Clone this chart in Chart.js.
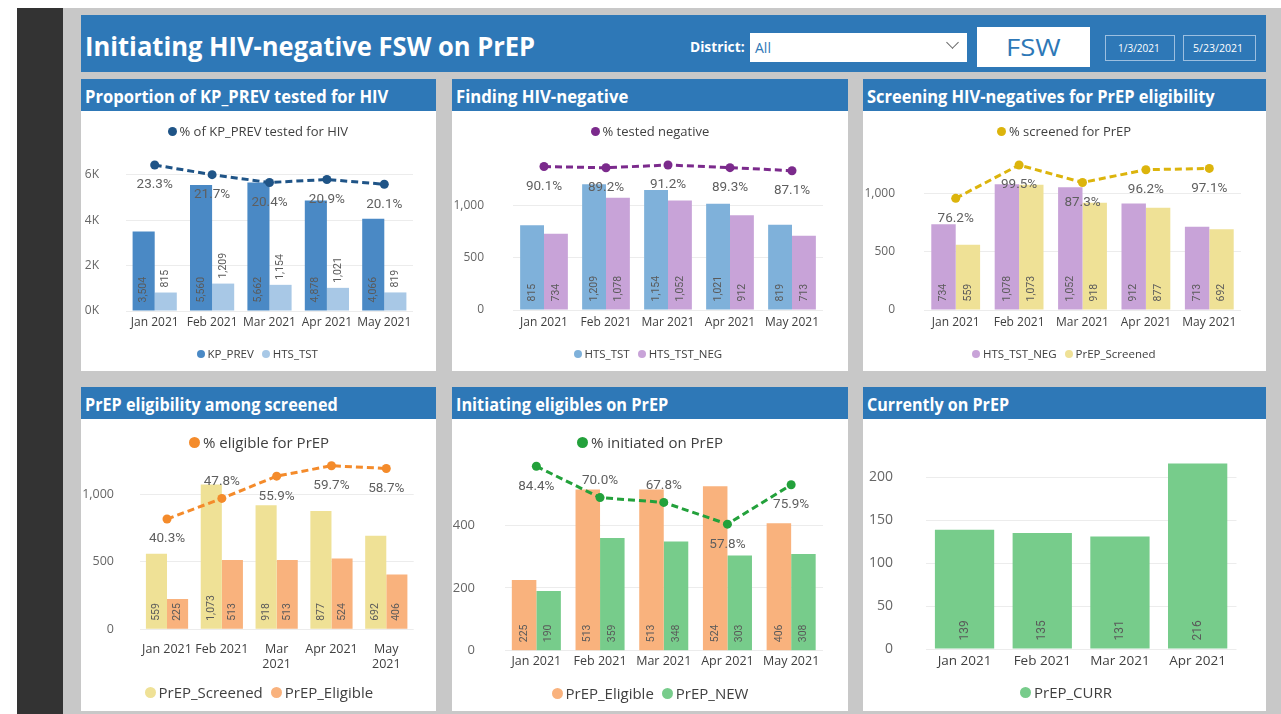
<!DOCTYPE html>
<html>
<head>
<meta charset="utf-8">
<script src="https://cdn.jsdelivr.net/npm/chart.js@4.4.1/dist/chart.umd.min.js"></script>
<style>
  body { margin: 0; width: 1281px; height: 714px; background: #fff; position: relative; overflow: hidden; font-family: "Open Sans", sans-serif; }
  .abs { position: absolute; }
  .fit { position: absolute; white-space: nowrap; line-height: 1; transform-origin: 0 50%; }
  canvas { position: absolute; }
  .legend { position: absolute; white-space: nowrap; color: #404040; display: flex; align-items: center; line-height: 1.2; }
  .legend .dot { display: inline-block; border-radius: 50%; margin-right: 3px; }
  .legend .item { display: flex; align-items: center; margin: 0 4px; }
</style>
</head>
<body>
<script>
// data
const months = ['Jan 2021', 'Feb 2021', 'Mar 2021', 'Apr 2021', 'May 2021'];
const currMonths = ['Jan 2021', 'Feb 2021', 'Mar 2021', 'Apr 2021'];
const kpPrev = [3504, 5560, 5662, 4878, 4066];
const htsTst = [815, 1209, 1154, 1021, 819];
const htsTstNeg = [734, 1078, 1052, 912, 713];
const prepScreened = [559, 1073, 918, 877, 692];
const prepEligible = [225, 513, 513, 524, 406];
const prepNew = [190, 359, 348, 303, 308];
const prepCurr = [139, 135, 131, 216];
const pctTested = [23.3, 21.7, 20.4, 20.9, 20.1];
const pctNegative = [90.1, 89.2, 91.2, 89.3, 87.1];
const pctScreened = [76.2, 99.5, 87.3, 96.2, 97.1];
const pctEligible = [40.3, 47.8, 55.9, 59.7, 58.7];
const pctInitiated = [84.4, 70.0, 67.8, 57.8, 75.9];

const BLUE = '#2e78b7';

function rect(x, y, w, h, css) {
  const d = document.createElement('div');
  d.className = 'abs';
  d.style.cssText += `left:${x}px;top:${y}px;width:${w}px;height:${h}px;` + (css || '');
  document.body.appendChild(d);
  return d;
}

function fitText(text, x, cy, w, size, color, weight) {
  const el = document.createElement('div');
  el.className = 'fit';
  el.textContent = text;
  el.style.cssText += `left:${x}px;top:${cy}px;font-size:${size}px;color:${color};font-weight:${weight};`;
  document.body.appendChild(el);
  const k = w ? w / el.offsetWidth : 1;
  el.style.transform = `translateY(-50%) scaleX(${k})`;
  return el;
}

function legend(items, cx, cy, size) {
  const d = document.createElement('div');
  d.className = 'legend';
  d.style.fontSize = size + 'px';
  items.forEach(([text, color]) => {
    const it = document.createElement('span');
    it.className = 'item';
    const dot = document.createElement('span');
    dot.className = 'dot';
    const ds = Math.round(size * 0.72);
    dot.style.cssText += `width:${ds}px;height:${ds}px;background:${color};`;
    it.appendChild(dot);
    it.appendChild(document.createTextNode(text));
    d.appendChild(it);
  });
  document.body.appendChild(d);
  d.style.left = (cx - d.offsetWidth / 2) + 'px';
  d.style.top = (cy - d.offsetHeight / 2) + 'px';
}

// page frame
rect(17, 8, 46, 706, 'background:#333;');
rect(63, 8, 1218, 706, 'background:#c8c8c8;');
rect(81, 15, 1185, 57, 'background:' + BLUE + ';');
fitText('Initiating HIV-negative FSW on PrEP', 85, 45, 450, 27, '#fff', 700);
fitText('District:', 690, 47, 55, 14, '#fff', 700);
rect(750, 33, 217, 29, 'background:#fff;');
fitText('All', 755, 48, 0, 14, BLUE, 400);
rect(948, 38, 8, 8, 'border-right:1px solid #666;border-bottom:1px solid #666;transform:rotate(45deg);');
rect(977, 27, 113, 40, 'background:#fff;');
fitText('FSW', 1006, 47, 55, 24, BLUE, 500);
rect(1105, 35, 68, 24, 'border:1px solid #9cbfe0;');
fitText('1/3/2021', 1118, 47, 42, 11, '#fff', 400);
rect(1183, 35, 71, 24, 'border:1px solid #9cbfe0;');
fitText('5/23/2021', 1193, 47, 50, 11, '#fff', 400);

const panels = [
  { x: 81, y: 79, w: 355, h: 292, title: 'Proportion of KP_PREV tested for HIV', tw: 303 },
  { x: 452, y: 79, w: 396, h: 292, title: 'Finding HIV-negative', tw: 172 },
  { x: 863, y: 79, w: 403, h: 292, title: 'Screening HIV-negatives for PrEP eligibility', tw: 348 },
  { x: 81, y: 387, w: 355, h: 324, title: 'PrEP eligibility among screened', tw: 253 },
  { x: 452, y: 387, w: 396, h: 324, title: 'Initiating eligibles on PrEP', tw: 212 },
  { x: 863, y: 387, w: 403, h: 324, title: 'Currently on PrEP', tw: 142 }
];
panels.forEach(p => {
  rect(p.x, p.y, p.w, p.h, 'background:#fff;');
  rect(p.x, p.y, p.w, 32, 'background:' + BLUE + ';');
  fitText(p.title, p.x + 4, p.y + 17, p.tw, 17, '#fff', 700);
});

const valueLabels = {
  id: 'valueLabels',
  afterDatasetsDraw(chart, args, opts) {
    const ctx = chart.ctx;
    chart.data.datasets.forEach((ds, i) => {
      const meta = chart.getDatasetMeta(i);
      meta.data.forEach((el, j) => {
        const v = ds.data[j];
        ctx.save();
        if (meta.type === 'bar') {
          ctx.font = opts.barFont;
          ctx.fillStyle = '#5a5a5a';
          ctx.textBaseline = 'middle';
          ctx.textAlign = 'left';
          const y0 = ds.labelAt === 'end' ? el.y - 5 : el.base - 8;
          ctx.translate(el.x, y0);
          ctx.rotate(-Math.PI / 2);
          ctx.fillText(v.toLocaleString('en-US'), 0, 0);
        } else {
          ctx.font = opts.lineFont;
          ctx.fillStyle = '#5f5f5f';
          ctx.textAlign = 'center';
          ctx.textBaseline = 'middle';
          const pos = opts.linePos ? opts.linePos[j] : 'below';
          ctx.fillText(v.toFixed(1) + '%', el.x, el.y + (pos === 'above' ? -17 : 20));
        }
        ctx.restore();
      });
    });
  }
};

const fmtK = v => (v / 1000) + 'K';
const fmtN = v => v.toLocaleString('en-US');

function buildChart(c) {
  const cv = document.createElement('canvas');
  cv.width = c.box.w;
  cv.height = c.box.h;
  cv.style.left = c.box.x + 'px';
  cv.style.top = c.box.y + 'px';
  document.body.appendChild(cv);
  const yW = c.area.l - c.box.x;
  const below = c.box.y + c.box.h - c.area.b;
  const xH = below - 4;
  const tickTop = c.yTickMax || c.yMax;
  const datasets = c.bars.map(b => ({
    type: 'bar', label: b.label, data: b.data, backgroundColor: b.color, labelAt: b.at || 'base',
    categoryPercentage: c.catPct || 0.77, barPercentage: 1, order: 1, yAxisID: 'y'
  }));
  const scales = {
    x: {
      grid: { display: false, drawTicks: false }, border: { display: false },
      ticks: {
        color: '#404040', font: { family: 'Open Sans', size: c.xFont }, padding: c.xPad,
        maxRotation: 0, autoSkip: false,
        callback(v, i) {
          const s = this.getLabelForValue(v);
          return c.wrap && c.wrap.includes(i) ? s.split(' ') : s;
        }
      },
      afterFit(s) { s.height = xH; }
    },
    y: {
      min: 0, max: c.yMax,
      grid: { color: '#ececec', drawTicks: false }, border: { display: false },
      ticks: {
        color: '#666', font: { family: 'Open Sans', size: c.yFont },
        padding: c.area.l - c.yLabelRight, callback: c.yFmt
      },
      afterBuildTicks(s) {
        const t = [];
        for (let v = 0; v <= tickTop; v += c.yStep) t.push({ value: v });
        s.ticks = t;
      },
      afterFit(s) { s.width = yW; }
    }
  };
  if (c.line) {
    datasets.push({
      type: 'line', label: c.line.label, data: c.line.data, yAxisID: 'y2',
      borderColor: c.line.color, backgroundColor: c.line.color, borderWidth: 3, borderDash: [7, 4],
      pointRadius: 4.5, pointBorderWidth: 0, pointBackgroundColor: c.line.color, tension: 0, order: 0
    });
    scales.y2 = { display: false, position: 'right', min: c.line.min, max: c.line.max };
  }
  return new Chart(cv.getContext('2d'), {
    data: { labels: c.labels, datasets },
    plugins: [valueLabels],
    options: {
      responsive: false, animation: false,
      layout: { padding: { left: 0, top: c.area.t - c.box.y, right: c.box.x + c.box.w - c.area.r, bottom: below - xH } },
      plugins: {
        legend: { display: false }, tooltip: { enabled: false },
        valueLabels: { linePos: c.line ? c.line.pos : null, barFont: (c.barFont || 10.5) + 'px Roboto', lineFont: '13.5px Roboto' }
      },
      scales
    }
  });
}

const below5 = ['below', 'below', 'below', 'below', 'below'];

// 1
buildChart({
  box: { x: 81, y: 111, w: 355, h: 260 }, area: { l: 126, r: 413, t: 155, b: 311 }, yLabelRight: 99,
  labels: months, yMax: 6880, yStep: 2000, yFmt: fmtK, yFont: 12, xFont: 12, xPad: 4.5,
  bars: [{ label: 'KP_PREV', data: kpPrev, color: '#4a89c5' }, { label: 'HTS_TST', data: htsTst, color: '#a8c8e6', at: 'end' }],
  line: { label: '% of KP_PREV tested for HIV', data: pctTested, color: '#1f5487', min: -0.91, max: 24.96, pos: below5 }
});
legend([['% of KP_PREV tested for HIV', '#1f5487']], 258, 132, 13);
legend([['KP_PREV', '#4a89c5'], ['HTS_TST', '#a8c8e6']], 257, 354, 11.5);

// 2
buildChart({
  box: { x: 452, y: 111, w: 396, h: 260 }, area: { l: 513, r: 823, t: 155, b: 310 }, yLabelRight: 484,
  labels: months, yMax: 1490, yStep: 500, yFmt: fmtN, yFont: 12, xFont: 12, xPad: 5,
  bars: [{ label: 'HTS_TST', data: htsTst, color: '#7fb1da' }, { label: 'HTS_TST_NEG', data: htsTstNeg, color: '#c8a3d8' }],
  line: { label: '% tested negative', data: pctNegative, color: '#7b2a8c', min: -13.1, max: 98.4, pos: below5 }
});
legend([['% tested negative', '#7b2a8c']], 650, 132, 13);
legend([['HTS_TST', '#7fb1da'], ['HTS_TST_NEG', '#c8a3d8']], 648, 354, 11.5);

// 3
buildChart({
  box: { x: 863, y: 111, w: 403, h: 260 }, area: { l: 924, r: 1241, t: 155, b: 310 }, yLabelRight: 895,
  labels: months, yMax: 1328, yStep: 500, yFmt: fmtN, yFont: 12, xFont: 12, xPad: 5,
  bars: [{ label: 'HTS_TST_NEG', data: htsTstNeg, color: '#c8a3d8' }, { label: 'PrEP_Screened', data: prepScreened, color: '#efe196' }],
  line: { label: '% screened for PrEP', data: pctScreened, color: '#dcb40c', min: -1.9, max: 106.5, pos: below5 }
});
legend([['% screened for PrEP', '#dcb40c']], 1064, 132, 13);
legend([['HTS_TST_NEG', '#c8a3d8'], ['PrEP_Screened', '#efe196']], 1064, 354, 11.5);

// 4
buildChart({
  box: { x: 81, y: 419, w: 355, h: 292 }, area: { l: 139.6, r: 413.7, t: 455, b: 629.3 }, yLabelRight: 114,
  labels: months, yMax: 1291, yStep: 500, yFmt: fmtN, yFont: 12.5, xFont: 12.5, xPad: 13, wrap: [2, 4],
  bars: [{ label: 'PrEP_Screened', data: prepScreened, color: '#efe196' }, { label: 'PrEP_Eligible', data: prepEligible, color: '#f9b27d' }],
  line: { label: '% eligible for PrEP', data: pctEligible, color: '#f48b2b', min: 0.2, max: 63.6, pos: ['below', 'above', 'below', 'below', 'below'] }
});
legend([['% eligible for PrEP', '#f48b2b']], 259, 442, 15);
legend([['PrEP_Screened', '#efe196'], ['PrEP_Eligible', '#f9b27d']], 259, 692, 15);

// 5
buildChart({
  box: { x: 452, y: 419, w: 396, h: 292 }, area: { l: 504.5, r: 823, t: 455, b: 650.7 }, yLabelRight: 475,
  labels: months, yMax: 619, yTickMax: 400, yStep: 200, yFmt: fmtN, yFont: 13, xFont: 12.5, xPad: 3.5,
  bars: [{ label: 'PrEP_Eligible', data: prepEligible, color: '#f9b27d' }, { label: 'PrEP_NEW', data: prepNew, color: '#77cc8b' }],
  line: { label: '% initiated on PrEP', data: pctInitiated, color: '#23a13b', min: -0.4, max: 89.0, pos: ['below', 'above', 'above', 'below', 'below'] }
});
legend([['% initiated on PrEP', '#23a13b']], 650, 442, 15);
legend([['PrEP_Eligible', '#f9b27d'], ['PrEP_NEW', '#77cc8b']], 650, 693, 15);

// 6
buildChart({
  box: { x: 863, y: 419, w: 403, h: 292 }, area: { l: 925.7, r: 1236.5, t: 455, b: 649 }, yLabelRight: 893,
  labels: currMonths, yMax: 220, yStep: 50, yFmt: fmtN, yFont: 14, xFont: 13.5, xPad: 4.5, catPct: 0.763, barFont: 12,
  bars: [{ label: 'PrEP_CURR', data: prepCurr, color: '#77cc8b' }]
});
legend([['PrEP_CURR', '#77cc8b']], 1066, 692, 15);
</script>
</body>
</html>
